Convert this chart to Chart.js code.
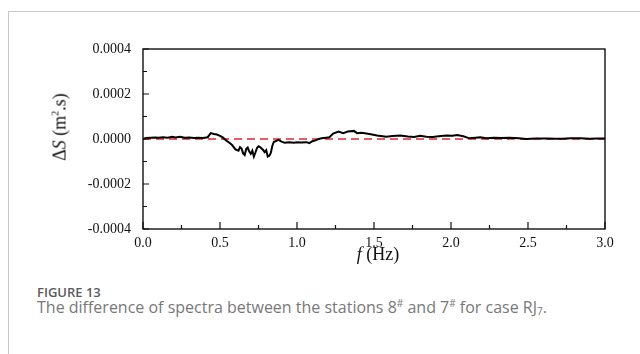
<!DOCTYPE html>
<html>
<head>
<meta charset="utf-8">
<script src="https://cdn.jsdelivr.net/npm/chart.js@4"></script>
<style>
  html, body { margin: 0; padding: 0; background: #fff; }
  #page { position: relative; width: 640px; height: 354px; overflow: hidden; }
  #frame {
    position: absolute; left: 8px; top: 11px; width: 640px; height: 360px;
    border-top: 1px solid #c9c9c9; border-left: 1px solid #c9c9c9;
  }
  #plot { position: absolute; left: 0; top: 0; width: 640px; height: 262px; }
  .axis-title {
    position: absolute; font-family: "Liberation Serif", "Times New Roman", serif;
    font-size: 18px; color: #111; white-space: nowrap;
  }
  #ytitle { left: 60px; top: 127px; transform: translate(-50%, -50%) rotate(-90deg); }
  #xtitle { left: 378px; top: 254px; transform: translate(-50%, -50%); }
  .axis-title sup { font-size: 10px; vertical-align: 7px; }
  #fig { position: absolute; left: 37px; top: 283px; font-family: "Open Sans", "Noto Sans", sans-serif;
         font-size: 13px; font-weight: 600; color: #5a5b5d; }
  #cap { position: absolute; left: 37px; top: 296px; font-family: "Open Sans", "Noto Sans", sans-serif;
         font-size: 16px; color: #77787a; white-space: nowrap; }
  #cap sup { font-size: 10px; vertical-align: 6px; }
  #cap sub { font-size: 10px; vertical-align: -2px; }
</style>
</head>
<body>
<div id="page">
  <div id="frame"></div>
  <div id="plot"><canvas id="chart" width="640" height="262"></canvas></div>
  <div id="ytitle" class="axis-title">&Delta;<i>S</i> (m<sup>2</sup>.s)</div>
  <div id="xtitle" class="axis-title"><i>f</i> (Hz)</div>
  <div id="fig">FIGURE 13</div>
  <div id="cap">The difference of spectra between the stations 8<sup>#</sup> and 7<sup>#</sup> for case RJ<sub>7</sub>.</div>
</div>
<script>
// frequency (Hz) and spectral difference, in units of 1e-5 m^2.s
const freq = [
  0.00, 0.02, 0.05, 0.08, 0.10, 0.13, 0.16, 0.19, 0.21, 0.24, 0.27, 0.30, 0.33, 0.36, 0.39, 0.42,
  0.44, 0.46, 0.48, 0.50, 0.52, 0.54, 0.56, 0.58, 0.60, 0.62, 0.63, 0.64, 0.65, 0.66, 0.67, 0.68,
  0.69, 0.70, 0.71, 0.72, 0.73, 0.74, 0.75, 0.76, 0.77, 0.78, 0.79, 0.80, 0.81, 0.82, 0.83, 0.84,
  0.85, 0.86, 0.88, 0.90, 0.92, 0.95, 0.98, 1.00, 1.03, 1.06, 1.08, 1.10, 1.12, 1.14, 1.16, 1.19,
  1.21, 1.235, 1.27, 1.30, 1.33, 1.37, 1.39, 1.42, 1.47, 1.52, 1.58, 1.62, 1.67, 1.72, 1.76, 1.80,
  1.84, 1.88, 1.92, 1.97, 2.01, 2.04, 2.08, 2.12, 2.16, 2.19, 2.23, 2.28, 2.33, 2.38, 2.44, 2.49,
  2.55, 2.62, 2.68, 2.72, 2.78, 2.84, 2.90, 2.95, 3.00
];
const deltaS = [
  0.0, 0.5, 0.6, 0.7, 0.6, 0.8, 0.6, 1.0, 0.7, 1.0, 0.6, 0.7, 0.4, 0.6, 0.5, 0.8,
  2.6, 2.2, 2.0, 1.4, 0.6, -0.7, -1.6, -2.8, -4.6, -5.2, -3.6, -4.2, -6.4, -7.1, -4.5, -3.8,
  -5.6, -6.6, -5.2, -7.8, -6.0, -4.0, -3.2, -3.6, -4.2, -4.9, -5.8, -5.0, -7.8, -7.4, -6.2, -3.0,
  -1.2, -1.0, -0.4, -1.2, -1.7, -1.5, -1.7, -1.4, -1.6, -1.4, -1.8, -1.0, -0.6, 0.0, 0.3, 0.6,
  0.8, 2.4, 3.3, 2.6, 3.3, 3.6, 2.6, 2.8, 2.2, 1.6, 1.0, 1.3, 1.5, 1.1, 0.9, 1.4,
  1.0, 0.9, 1.2, 1.6, 1.4, 1.8, 1.2, 0.3, 0.6, 0.8, 0.3, 0.6, 0.4, 0.6, 0.3, 0.0,
  0.2, 0.2, 0.1, 0.1, 0.3, 0.3, 0.1, 0.2, 0.2
];
const zeroFreq = [0.0, 3.0];
const zeroVal = [0, 0];

const xMajor = [0, 0.5, 1.0, 1.5, 2.0, 2.5, 3.0];
const xMinor = [0.25, 0.75, 1.25, 1.75, 2.25, 2.75];
const yMajor = [-40, -20, 0, 20, 40];
const yMinor = [-30, -10, 10, 30];

const serif = '"Liberation Serif", "Times New Roman", serif';

// frame + inward ticks
const framePlugin = {
    id: 'frame',
    afterDraw(chart) {
        const { ctx, chartArea: a, scales: { x, y } } = chart;
        ctx.save();
        ctx.strokeStyle = '#111';
        ctx.lineWidth = 1.4;
        ctx.strokeRect(a.left, a.top, a.right - a.left, a.bottom - a.top);
        ctx.lineWidth = 1.2;
        ctx.beginPath();
        xMajor.forEach(v => { const px = x.getPixelForValue(v); ctx.moveTo(px, a.bottom); ctx.lineTo(px, a.bottom - 7); });
        xMinor.forEach(v => { const px = x.getPixelForValue(v); ctx.moveTo(px, a.bottom); ctx.lineTo(px, a.bottom - 4); });
        yMajor.forEach(v => { const py = y.getPixelForValue(v); ctx.moveTo(a.left, py); ctx.lineTo(a.left + 6, py); });
        yMinor.forEach(v => { const py = y.getPixelForValue(v); ctx.moveTo(a.left, py); ctx.lineTo(a.left + 4, py); });
        ctx.stroke();
        ctx.restore();
    }
};

new Chart(document.getElementById('chart').getContext('2d'), {
    type: 'line',
    data: {
        datasets: [
            {
                label: 'zero',
                data: zeroFreq.map((f, i) => ({ x: f, y: zeroVal[i] })),
                borderColor: '#e8262a',
                borderWidth: 1.6,
                borderDash: [8, 5],
                pointRadius: 0,
                order: 2
            },
            {
                label: 'ΔS',
                data: freq.map((f, i) => ({ x: f, y: deltaS[i] })),
                borderColor: '#000',
                borderWidth: 2,
                pointRadius: 0,
                tension: 0,
                order: 1
            }
        ]
    },
    options: {
        responsive: false,
        animation: false,
        layout: { padding: { left: 0, top: 49, right: 35, bottom: 0 } },
        plugins: { legend: { display: false }, tooltip: { enabled: false } },
        scales: {
            x: {
                type: 'linear', min: 0, max: 3,
                grid: { display: false, drawTicks: false },
                border: { display: false },
                afterFit: s => { s.height = 33; },
                afterBuildTicks: s => { s.ticks = xMajor.map(v => ({ value: v })); },
                ticks: {
                    autoSkip: false, maxRotation: 0, padding: 6,
                    color: '#111', font: { family: serif, size: 14 },
                    callback: v => Number(v).toFixed(1)
                }
            },
            y: {
                type: 'linear', min: -40, max: 40,
                grid: { display: false, drawTicks: false },
                border: { display: false },
                afterFit: s => { s.width = 143; },
                afterBuildTicks: s => { s.ticks = yMajor.map(v => ({ value: v })); },
                ticks: {
                    padding: 12,
                    color: '#111', font: { family: serif, size: 14 },
                    callback: v => (v * 1e-5).toFixed(4)
                }
            }
        }
    },
    plugins: [framePlugin]
});
</script>
</body>
</html>
